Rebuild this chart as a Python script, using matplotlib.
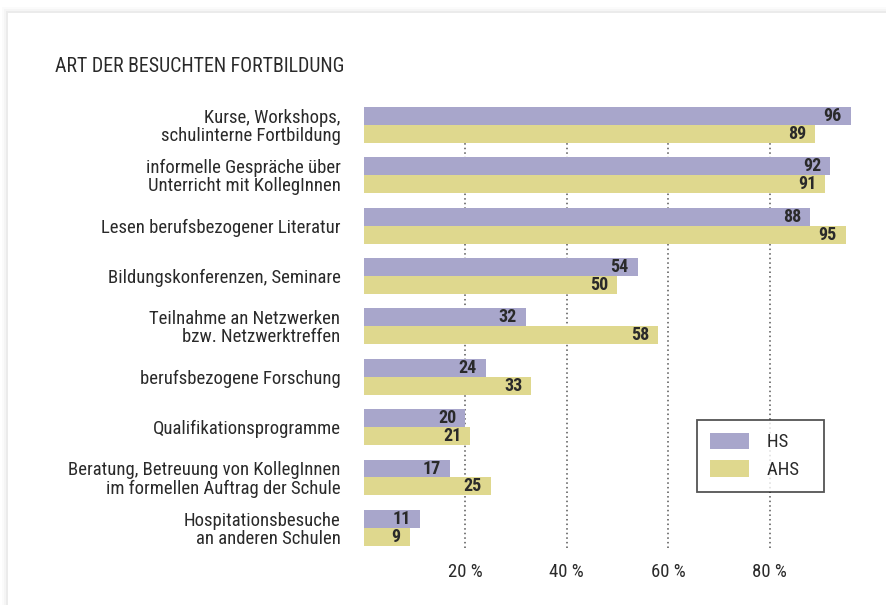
import matplotlib.pyplot as plt
from matplotlib.patches import Rectangle, Patch

categories = [
    "Kurse, Workshops,\nschulinterne Fortbildung",
    "informelle Gespräche über\nUnterricht mit KollegInnen",
    "Lesen berufsbezogener Literatur",
    "Bildungskonferenzen, Seminare",
    "Teilnahme an Netzwerken\nbzw. Netzwerktreffen",
    "berufsbezogene Forschung",
    "Qualifikationsprogramme",
    "Beratung, Betreuung von KollegInnen\nim formellen Auftrag der Schule",
    "Hospitationsbesuche\nan anderen Schulen",
]
hs = [96, 92, 88, 54, 32, 24, 20, 17, 11]
ahs = [89, 91, 95, 50, 58, 33, 21, 25, 9]
xticks = [20, 40, 60, 80]
xtick_labels = ["20 %", "40 %", "60 %", "80 %"]

HS_COLOR = "#a8a6cb"
AHS_COLOR = "#dfd88e"
TEXT = "#2a2a2a"

plt.rcParams['font.family'] = ['Roboto Condensed', 'DejaVu Sans']

fig = plt.figure(figsize=(8.87, 6.05), dpi=100)
fig.patch.set_facecolor("#ffffff")

# card with soft shadow
x0, y0 = 8 / 887, 1 - 13 / 605
for k, a in [(6, 0.015), (4, 0.025), (2, 0.04)]:
    fig.patches.append(Rectangle((x0 - k / 887, 0), 1.2, y0 + k / 605,
                                 transform=fig.transFigure, facecolor="black",
                                 alpha=a, edgecolor="none", zorder=-2))
fig.patches.append(Rectangle((x0, 0), 1.2, y0, transform=fig.transFigure,
                             facecolor="white", edgecolor="none", zorder=-1))

ax = fig.add_axes([364 / 887, 1 - 548 / 605, 507 / 887, 441 / 605])
ax.set_facecolor("none")

h = 0.356
pos = list(range(len(categories)))
ax.barh([p - h / 2 for p in pos], hs, height=h, color=HS_COLOR, zorder=2)
ax.barh([p + h / 2 for p in pos], ahs, height=h, color=AHS_COLOR, zorder=2)

for p, v in zip(pos, hs):
    ax.text(v - 1.8, p - h / 2, str(v), ha="right", va="center",
            fontsize=13, fontweight="bold", color=TEXT, zorder=3)
for p, v in zip(pos, ahs):
    ax.text(v - 1.8, p + h / 2, str(v), ha="right", va="center",
            fontsize=13, fontweight="bold", color=TEXT, zorder=3)

for t in xticks:
    ax.axvline(t, color="#555555", lw=1.1, ls=(0, (1, 2)), zorder=1)

ax.set_xlim(0, 100)
ax.set_ylim(8.4, -h)
ax.set_yticks(pos)
ax.set_yticklabels(categories, fontsize=13.5, color=TEXT, linespacing=1.0)
ax.set_xticks(xticks)
ax.set_xticklabels(xtick_labels, fontsize=13.5, color=TEXT)
ax.tick_params(axis="both", length=0)
ax.tick_params(axis="y", pad=17)
ax.tick_params(axis="x", pad=10.5)
for s in ax.spines.values():
    s.set_visible(False)

fig.text(55 / 887, 1 - 72 / 605, "ART DER BESUCHTEN FORTBILDUNG", fontsize=14.3,
         color=TEXT, ha="left", va="baseline")

handles = [Patch(facecolor=HS_COLOR, label="HS"), Patch(facecolor=AHS_COLOR, label="AHS")]
leg = ax.legend(handles=handles, loc="upper left",
                bbox_to_anchor=(697 / 887, 1 - 420 / 605), bbox_transform=fig.transFigure,
                fontsize=13.5, frameon=True, fancybox=False, handlelength=2.1,
                handleheight=0.97, labelspacing=0.48, borderpad=0.68, handletextpad=0.95,
                borderaxespad=0)
leg.get_frame().set_edgecolor("#2a2a2a")
leg.get_frame().set_linewidth(1.3)
for t in leg.get_texts():
    t.set_color(TEXT)
    t.set_text(t.get_text() + "   ")

fig.savefig("out.png", dpi=100, facecolor=fig.get_facecolor())
